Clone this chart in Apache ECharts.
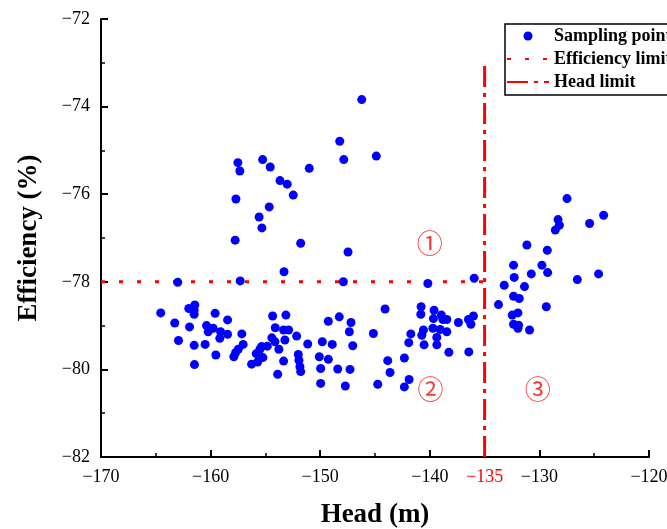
<!DOCTYPE html>
<html>
<head>
<meta charset="utf-8">
<script src="https://cdn.jsdelivr.net/npm/echarts@6/dist/echarts.min.js"></script>
<style>
html,body{margin:0;padding:0;background:#fff;}
#chart{width:667px;height:529px;}
</style>
</head>
<body>
<div id="chart"></div>
<script>
// ---- data ----
const samplingPoints = [
  [-163.0,-78.01],[-157.3,-77.98],[-153.3,-77.77],[-164.55,-78.71],[-161.99,-78.61],[-161.44,-78.53],
  [-161.5,-78.65],[-161.5,-78.74],[-159.59,-78.72],[-163.27,-78.94],[-161.92,-79.03],[-160.37,-79.0],
  [-160.22,-79.14],[-159.77,-79.06],[-159.09,-79.14],[-158.45,-78.87],[-158.45,-79.2],[-159.16,-79.29],
  [-157.15,-79.19],[-162.93,-79.34],[-161.5,-79.45],[-160.5,-79.43],[-157.03,-79.43],[-157.48,-79.54],
  [-157.72,-79.62],[-157.88,-79.71],[-159.52,-79.67],[-161.47,-79.89],[-156.26,-79.88],[-155.71,-79.83],
  [-155.84,-79.64],[-155.5,-79.54],[-155.35,-79.48],[-154.83,-79.47],[-155.23,-79.73],[-154.34,-78.78],
  [-154.1,-79.05],[-154.41,-79.28],[-154.13,-79.37],[-153.77,-79.54],[-153.34,-79.81],[-153.88,-80.11],
  [-153.13,-78.76],[-153.34,-79.1],[-152.88,-79.1],[-153.22,-79.33],
  [-147.89,-78.0],[-140.18,-78.04],[-135.95,-77.92],[-152.15,-79.24],[-151.14,-79.42],[-152.0,-79.66],
  [-151.94,-79.79],[-151.85,-79.94],[-151.78,-80.05],[-149.26,-78.9],[-148.26,-78.8],[-147.19,-78.93],
  [-147.34,-79.14],[-147.03,-79.46],[-149.81,-79.37],[-148.9,-79.43],[-150.08,-79.71],[-149.26,-79.77],
  [-149.96,-79.98],[-148.4,-79.99],[-147.28,-80.0],[-149.96,-80.32],[-147.71,-80.38],[-144.08,-78.62],
  [-145.15,-79.18],[-143.84,-79.8],[-143.63,-80.07],[-144.75,-80.34],[-142.32,-79.74],[-141.92,-79.39],
  [-141.73,-79.19],[-141.89,-80.23],[-142.32,-80.4],[-140.79,-78.57],[-140.82,-78.74],[-139.61,-78.65],
  [-139.67,-78.84],[-138.94,-78.76],[-138.81,-78.86],[-138.45,-78.86],[-140.58,-79.1],[-140.73,-79.22],
  [-139.72,-79.06],[-139.06,-79.09],[-138.45,-79.14],[-139.36,-79.27],[-140.52,-79.44],[-139.36,-79.44],
  [-138.26,-79.61],[-137.39,-78.93],[-136.47,-78.86],[-136.25,-78.97],[-136.02,-78.78],[-136.44,-79.6],
  [-133.73,-78.52],
  [-127.48,-76.1],[-128.3,-76.58],[-128.18,-76.71],[-128.55,-76.82],[-125.42,-76.67],[-124.14,-76.48],
  [-131.14,-77.16],[-129.28,-77.28],[-132.36,-77.62],[-129.77,-77.62],[-132.3,-77.9],[-130.74,-77.82],
  [-129.25,-77.79],[-126.54,-77.95],[-124.6,-77.82],[-133.21,-78.08],[-131.36,-78.11],[-132.36,-78.33],
  [-131.84,-78.38],[-129.37,-78.57],[-132.48,-78.76],[-131.96,-78.71],[-132.36,-78.97],[-131.9,-78.99],
  [-131.96,-79.06],[-130.9,-79.1],
  [-157.51,-75.28],[-157.33,-75.47],[-155.25,-75.21],[-154.56,-75.38],[-153.67,-75.69],[-153.01,-75.77],
  [-152.46,-76.02],[-157.69,-76.11],[-154.65,-76.29],[-155.57,-76.52],[-155.32,-76.77],[-157.76,-77.05],
  [-146.21,-73.84],[-148.22,-74.79],[-147.85,-75.21],[-144.88,-75.13],[-151.0,-75.41],[-151.78,-77.12],
  [-147.46,-77.32]
];
const efficiencyLimit = [[-170,-78],[-135,-78]];
const headLimit = [[-135,-82],[-135,-73]];
const regionLabels = [
  {name:'\u2460', value:[-140.0,-77.12]},
  {name:'\u2461', value:[-139.93,-80.46]},
  {name:'\u2462', value:[-130.15,-80.46]}
];
const xTickLabels = [-170,-160,-150,-140,-135,-130,-120];
const yTickLabels = [-82,-80,-78,-76,-74,-72];

const SERIF = '"Liberation Serif","Times New Roman",serif';
const minus = v => String(v).replace('-', '\u2212');

const chart = echarts.init(document.getElementById('chart'), null, {renderer:'canvas'});
chart.setOption({
  animation:false,
  backgroundColor:'#fff',
  grid:{left:101, right:18, top:19, bottom:72, containLabel:false, outerBoundsMode:'none'},
  legend:{
    left:505, top:24, orient:'vertical',
    backgroundColor:'#fff',
    borderColor:'#000', borderWidth:1.5, borderRadius:0,
    padding:[3,6,4,1],
    itemWidth:42, itemHeight:9, itemGap:5,
    textStyle:{fontFamily:SERIF, fontSize:18, fontWeight:'bold', color:'#000'},
    data:['Sampling points','Efficiency limit','Head limit']
  },
  xAxis:{
    type:'value', min:-170, max:-120, interval:10,
    name:'Head (m)', nameLocation:'middle', nameGap:45,
    nameTextStyle:{fontFamily:SERIF, fontSize:27, fontWeight:'bold', color:'#000'},
    axisLine:{show:true, onZero:false, lineStyle:{color:'#000', width:2}},
    axisTick:{show:true, inside:true, length:7, lineStyle:{color:'#000', width:2}},
    minorTick:{show:true, splitNumber:2, length:4, lineStyle:{color:'#000', width:1.5}},
    splitLine:{show:false},
    axisLabel:{
      customValues:xTickLabels,
      margin:11, fontFamily:SERIF, fontSize:18, color:'#000',
      formatter: v => v === -135 ? '{r|' + minus(v) + '}' : minus(v),
      rich:{r:{color:'#ff0000', fontFamily:SERIF, fontSize:18}}
    }
  },
  yAxis:{
    type:'value', min:-82, max:-72, interval:2,
    name:'Efficiency (%)', nameLocation:'middle', nameGap:58, nameRotate:90,
    nameTextStyle:{fontFamily:SERIF, fontSize:27, fontWeight:'bold', color:'#000'},
    axisLine:{show:true, onZero:false, lineStyle:{color:'#000', width:2}},
    axisTick:{show:true, inside:true, length:7, lineStyle:{color:'#000', width:2}},
    minorTick:{show:true, splitNumber:2, length:4, lineStyle:{color:'#000', width:1.5}},
    splitLine:{show:false},
    axisLabel:{
      customValues:yTickLabels,
      margin:11, fontFamily:SERIF, fontSize:18, color:'#000',
      formatter: minus
    }
  },
  series:[
    {
      name:'Efficiency limit', type:'line', data:efficiencyLimit,
      symbol:'circle', showSymbol:false, silent:true, z:2,
      lineStyle:{color:'#ff0000', width:3, type:[4,14], cap:'butt', opacity:1},
      itemStyle:{color:'#ff0000', opacity:0}
    },
    {
      name:'Head limit', type:'line', data:headLimit,
      symbol:'circle', showSymbol:false, silent:true, z:2,
      lineStyle:{color:'#ff0000', width:3, type:[21,6,4,6], cap:'butt', opacity:1},
      itemStyle:{color:'#ff0000', opacity:0}
    },
    {
      name:'Sampling points', type:'scatter', data:samplingPoints,
      symbol:'circle', symbolSize:9, z:3,
      itemStyle:{color:'#0000ff', opacity:1}
    },
    {
      name:'regions', type:'scatter', data:regionLabels,
      symbolSize:0, silent:true, z:4,
      label:{show:true, position:'inside', formatter:p => p.name,
        fontFamily:'"Noto Sans CJK SC","DejaVu Sans",sans-serif', fontSize:26, color:'#ff0000'}
    }
  ]
});
</script>
</body>
</html>
